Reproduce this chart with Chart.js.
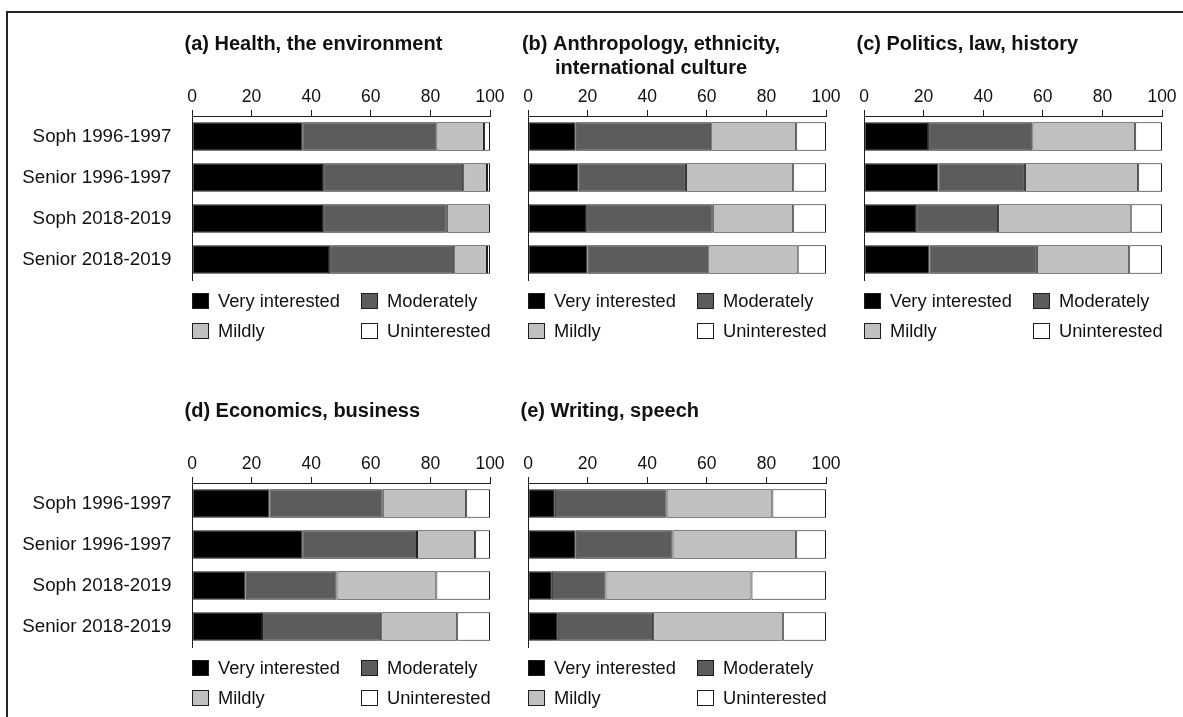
<!DOCTYPE html>
<html>
<head>
<meta charset="utf-8">
<script src="https://cdn.jsdelivr.net/npm/chart.js@4/dist/chart.umd.min.js"></script>
<style>
  html, body { margin: 0; padding: 0; background: #fff; }
  #fig { position: relative; width: 1183px; height: 717px; overflow: hidden; background: #fff; }
  #frame { position: absolute; left: 6px; top: 11px; width: 1300px; height: 800px;
           border-top: 2px solid #222; border-left: 2px solid #222; }
  canvas.panel { position: absolute; }
</style>
</head>
<body>
<div id="fig">
  <div id="frame"></div>
  <canvas class="panel" id="panelA" width="520" height="350" style="left:0px;top:0px"></canvas>
  <canvas class="panel" id="panelB" width="520" height="350" style="left:336px;top:0px"></canvas>
  <canvas class="panel" id="panelC" width="520" height="350" style="left:672px;top:0px"></canvas>
  <canvas class="panel" id="panelD" width="520" height="350" style="left:0px;top:367px"></canvas>
  <canvas class="panel" id="panelE" width="520" height="350" style="left:336px;top:367px"></canvas>
</div>
<script>
// Survey groups and interest levels
const categories = ['Soph 1996-1997', 'Senior 1996-1997', 'Soph 2018-2019', 'Senior 2018-2019'];
const levels = ['Very interested', 'Moderately', 'Mildly', 'Uninterested'];
const xTicks = [0, 20, 40, 60, 80, 100];

// (a) Health, the environment (percent)
const healthVery = [37, 44, 44, 46];
const healthModerate = [45, 47, 41.5, 42];
const healthMild = [16, 8, 14.5, 11];
const healthUninterested = [2, 1, 0, 1];

// (b) Anthropology, ethnicity, international culture
const anthroVery = [16, 17, 19.5, 20];
const anthroModerate = [45.5, 36, 42.5, 40.5];
const anthroMild = [28.5, 36, 27, 30];
const anthroUninterested = [10, 11, 11, 9.5];

// (c) Politics, law, history
const politicsVery = [21.5, 25, 17.5, 22];
const politicsModerate = [35, 29, 27.5, 36];
const politicsMild = [34.5, 38, 44.5, 31];
const politicsUninterested = [9, 8, 10.5, 11];

// (d) Economics, business
const econVery = [26, 37, 18, 23.5];
const econModerate = [38, 38.5, 30.5, 40];
const econMild = [28, 19.5, 33.5, 25.5];
const econUninterested = [8, 5, 18, 11];

// (e) Writing, speech
const writingVery = [9, 16, 8, 10];
const writingModerate = [37.5, 32.5, 18, 32];
const writingMild = [35.5, 41.5, 49, 43.5];
const writingUninterested = [18, 10, 25, 14.5];

const fills = ['#000000', '#5c5c5c', '#c0c0c0', '#ffffff'];
const ink = '#1e1e1e';
const FONT = "'Liberation Sans', Arial, Helvetica, sans-serif";

// Panel heading drawn above the axis
function titlePlugin(lines, centered) {
  return {
    id: 'panelHeading',
    afterDraw(chart) {
      const ctx = chart.ctx;
      ctx.save();
      ctx.fillStyle = '#111';
      ctx.font = 'bold 20px ' + FONT;
      ctx.textBaseline = 'alphabetic';
      lines.forEach((line, i) => {
        const y = 50 + i * 23.5;
        if (centered) { ctx.textAlign = 'center'; ctx.fillText(line, 315, y); }
        else { ctx.textAlign = 'left'; ctx.fillText(line, 184.5, y); }
      });
      ctx.restore();
    }
  };
}

// Two-column key under the bars
const keyPlugin = {
  id: 'twoColumnKey',
  afterDraw(chart) {
    const ctx = chart.ctx;
    const left = chart.chartArea.left;
    const cols = [left, left + 169];
    const rows = [293, 323];
    ctx.save();
    ctx.font = '18.3px ' + FONT;
    ctx.textBaseline = 'middle';
    ctx.textAlign = 'left';
    chart.data.datasets.forEach((ds, i) => {
      const x = cols[i % 2];
      const y = rows[Math.floor(i / 2)];
      ctx.fillStyle = ink;
      ctx.fillRect(x, y, 17, 16);
      ctx.fillStyle = ds.backgroundColor;
      ctx.fillRect(x + 1, y + 1, 15, 14);
      ctx.fillStyle = '#111';
      ctx.fillText(ds.label, x + 26, y + 8.5);
    });
    ctx.restore();
  }
};

function makePanel(id, series, titleLines, centered, showCategories) {
  new Chart(document.getElementById(id), {
    type: 'bar',
    data: {
      labels: categories,
      datasets: series.map((values, i) => ({
        label: levels[i],
        data: values,
        backgroundColor: fills[i],
        borderColor: ink,
        borderWidth: 1,
        borderSkipped: false,
        barPercentage: 0.69,
        categoryPercentage: 1
      }))
    },
    options: {
      indexAxis: 'y',
      responsive: false,
      animation: false,
      events: [],
      layout: { padding: { left: 0, right: 30, top: 0, bottom: 70 } },
      scales: {
        x: {
          position: 'top',
          stacked: true,
          min: 0,
          max: 100,
          afterBuildTicks(scale) { scale.ticks = xTicks.map(v => ({ value: v })); },
          afterFit(scale) {
            scale.height = 116;
            scale.paddingLeft = 0;
            scale.paddingRight = 0;
          },
          ticks: { color: '#111', font: { family: FONT, size: 17.5 }, padding: 2, maxRotation: 0 },
          grid: { drawOnChartArea: false, drawTicks: true, tickLength: 6, color: ink, lineWidth: 1 },
          border: { display: true, color: ink, width: 1 }
        },
        y: {
          stacked: true,
          afterFit(scale) {
            scale.width = 192;
            scale.paddingTop = 0;
            scale.paddingBottom = 0;
          },
          ticks: { display: showCategories, color: '#111', font: { family: FONT, size: 18.8 }, padding: 20.5 },
          grid: { display: false, drawTicks: false },
          border: { display: true, color: ink, width: 1 }
        }
      },
      plugins: { legend: { display: false }, tooltip: { enabled: false }, title: { display: false } }
    },
    plugins: [titlePlugin(titleLines, centered), keyPlugin]
  });
}

makePanel('panelA', [healthVery, healthModerate, healthMild, healthUninterested],
  ['(a) Health, the environment'], false, true);
makePanel('panelB', [anthroVery, anthroModerate, anthroMild, anthroUninterested],
  ['(b) Anthropology, ethnicity,', 'international culture'], true, false);
makePanel('panelC', [politicsVery, politicsModerate, politicsMild, politicsUninterested],
  ['(c) Politics, law, history'], false, false);
makePanel('panelD', [econVery, econModerate, econMild, econUninterested],
  ['(d) Economics, business'], false, true);
makePanel('panelE', [writingVery, writingModerate, writingMild, writingUninterested],
  ['(e) Writing, speech'], false, false);
</script>
</body>
</html>
